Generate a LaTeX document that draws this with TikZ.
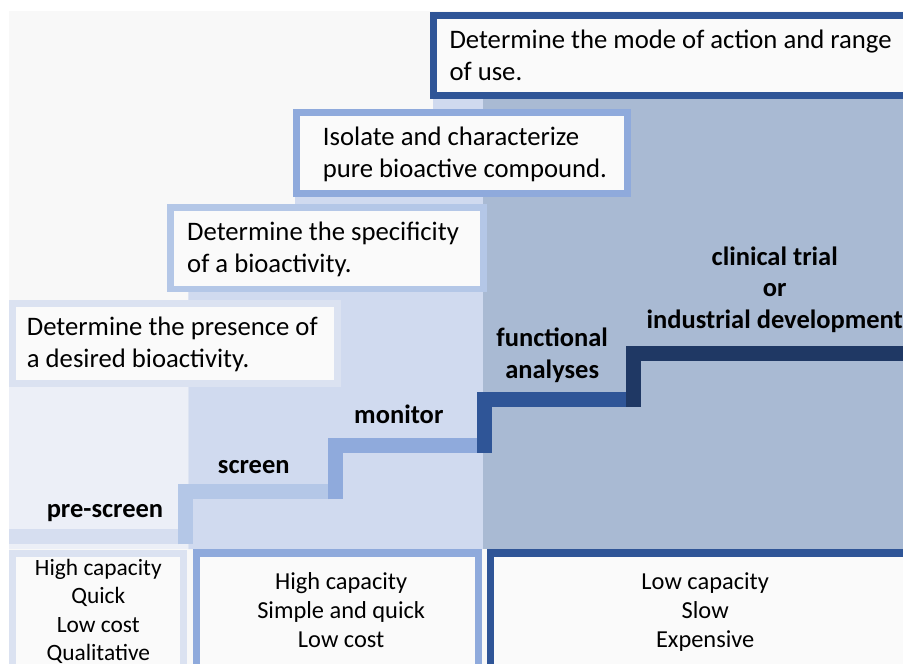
\documentclass[tikz,border=0pt]{standalone}
\usepackage{fontspec}
\setmainfont{Carlito}
\definecolor{bgc}{HTML}{F8F8F8}
\definecolor{boxfill}{HTML}{FAFAFA}
\definecolor{band1}{HTML}{ECEFF7}
\definecolor{band2}{HTML}{D0DAEF}
\definecolor{band3}{HTML}{A9BAD3}
\definecolor{s0}{HTML}{D6DEF0}
\definecolor{s1}{HTML}{B4C7E7}
\definecolor{s2}{HTML}{8FAADC}
\definecolor{s3}{HTML}{2F5597}
\definecolor{s4}{HTML}{1F3864}
\definecolor{cA}{HTML}{DBE2F1}
\begin{document}
\begin{tikzpicture}[x=1pt,y=-1pt,
  frame/.style={draw, rectangle, inner sep=0pt, outer sep=0pt, fill=boxfill, line width=7pt},
  boxtxt/.style={anchor=base west, inner sep=0pt, font=\fontsize{26.7}{32}\selectfont, text=black},
  ctxtE/.style={anchor=base, inner sep=0pt, font=\fontsize{23.4}{28.3}\selectfont, text=black},
  ctxt/.style={anchor=base, inner sep=0pt, font=\fontsize{24.4}{29}\selectfont, text=black},
  lbl/.style={anchor=base, inner sep=0pt, font=\bfseries\fontsize{26.5}{32}\selectfont, text=black},
  stair/.style={line width=14.7pt, line cap=butt, line join=miter}]
\useasboundingbox (0,0) rectangle (903,664);
\clip (0,0) rectangle (903,664);
% backgrounds
\fill[bgc] (9,11) rectangle (903,664);
\fill[band1] (9,300) rectangle (188.3,549);
\fill[band2] (188.3,549) -- (188.3,250) -- (295,250) -- (295,150) -- (433,150) -- (433,50) -- (483,50) -- (483,549) -- cycle;
\fill[band3] (483,50) rectangle (903,549);
\fill[s0] (9,529.3) rectangle (178.3,544);
% stairs
\draw[stair, draw=s1] (185.8,544.3) -- (185.8,491.8) -- (328.3,491.8);
\draw[stair, draw=s2] (335.5,499.3) -- (335.5,445.5) -- (477.7,445.5);
\draw[stair, draw=s3] (484.5,452.7) -- (484.5,399.2) -- (626.7,399.2);
\draw[stair, draw=s4] (633.8,406.7) -- (633.8,353.2) -- (903,353.2);
% upper boxes
\node[frame, draw=s3, minimum width=506.5pt, minimum height=80.3pt] (boxD) at (686.75,55.4) {};
\node[frame, draw=s2, minimum width=331pt, minimum height=81pt] (boxC) at (462,153) {};
\node[frame, draw=s1, line width=6.7pt, minimum width=313.4pt, minimum height=81.3pt] (boxB) at (327,248.3) {};
\node[frame, draw=cA, minimum width=325pt, minimum height=80pt] (boxA) at (175,343.5) {};
\node[boxtxt] (tD) at (449.3,48.3) {\begin{tabular}[t]{@{}l@{}}Determine the mode of action and range\\of use.\end{tabular}};
\node[boxtxt] (tC) at (322.7,145.7) {\begin{tabular}[t]{@{}l@{}}Isolate and characterize\\pure bioactive compound.\end{tabular}};
\node[boxtxt] (tB) at (187,240.7) {\begin{tabular}[t]{@{}l@{}}Determine the specificity\\of a bioactivity.\end{tabular}};
\node[boxtxt] (tA) at (26.7,335.7) {\begin{tabular}[t]{@{}l@{}}Determine the presence of\\a desired bioactivity.\end{tabular}};
% bottom boxes
\node[frame, draw=cA, minimum width=171pt, minimum height=127pt] (boxE) at (98,616.5) {};
\node[frame, draw=s2, line width=7.3pt, minimum width=282.4pt, minimum height=127pt] (boxF) at (337.5,616.5) {};
\node[frame, draw=s3, line width=7.3pt, minimum width=449.7pt, minimum height=127pt] (boxG) at (715.15,616.5) {};
\node[ctxtE] (tE) at (98.3,575.5) {\begin{tabular}[t]{@{}c@{}}High capacity\\Quick\\Low cost\\Qualitative\end{tabular}};
\node[ctxt] (tF) at (341.2,589.3) {\begin{tabular}[t]{@{}c@{}}High capacity\\Simple and quick\\Low cost\end{tabular}};
\node[ctxt] (tG) at (705.2,589.3) {\begin{tabular}[t]{@{}c@{}}Low capacity\\Slow\\Expensive\end{tabular}};
% stair labels
\node[lbl] (lpre) at (105,517) {pre-screen};
\node[lbl] (lscr) at (253.8,473.3) {screen};
\node[lbl] (lmon) at (398.8,423.3) {monitor};
\node[lbl, font=\bfseries\fontsize{26.5}{32.3}\selectfont] (lfun) at (552.2,346) {\begin{tabular}[t]{@{}c@{}}functional\\analyses\end{tabular}};
\node[lbl, font=\bfseries\fontsize{26.5}{31.7}\selectfont] (lcli) at (774.7,265) {\begin{tabular}[t]{@{}c@{}}clinical trial\\or\\industrial development\end{tabular}};
\end{tikzpicture}
\end{document}
